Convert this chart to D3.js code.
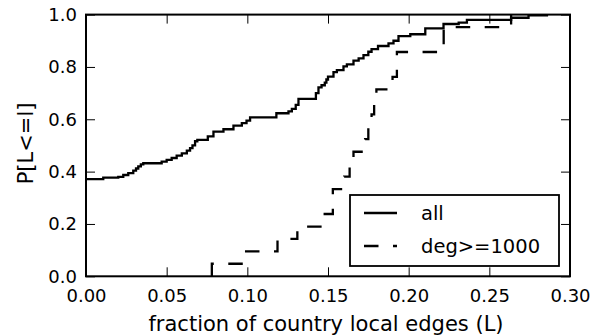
<!DOCTYPE html>
<html>
<head>
<meta charset="utf-8">
<script src="https://cdn.jsdelivr.net/npm/d3@7"></script>
<style>
  body { margin: 0; background: #fff; }
  text { font-family: "DejaVu Sans", sans-serif; fill: #000; }
</style>
</head>
<body>
<div id="chart"></div>
<script>
// tick values
const xTicks = [0.00, 0.05, 0.10, 0.15, 0.20, 0.25, 0.30];
const yTicks = [0.0, 0.2, 0.4, 0.6, 0.8, 1.0];
const seriesNames = ["all", "deg>=1000"];

// "all": step points (x where the step happens, level after it)
const allX = [0.000, 0.0107, 0.020, 0.0231, 0.0262, 0.0293, 0.031, 0.0324, 0.034, 0.0355,
              0.0469, 0.050, 0.0531, 0.0562, 0.0594, 0.0625, 0.0645, 0.066, 0.0676, 0.069,
              0.0755, 0.079, 0.0852, 0.0914, 0.0966, 0.0995, 0.1017, 0.118, 0.1255, 0.1276,
              0.130, 0.1317, 0.1425, 0.1441, 0.146, 0.148, 0.149, 0.150, 0.1534, 0.1555,
              0.1596, 0.1617, 0.1658, 0.169, 0.172, 0.175, 0.177, 0.181, 0.1875, 0.1906,
              0.1937, 0.201, 0.2103, 0.2216, 0.231, 0.2361, 0.2635, 0.2743, 0.2857];
const allY = [0.371, 0.377, 0.380, 0.387, 0.394, 0.404, 0.412, 0.420, 0.428, 0.432,
              0.438, 0.445, 0.452, 0.461, 0.470, 0.480, 0.490, 0.500, 0.516, 0.521,
              0.535, 0.553, 0.562, 0.576, 0.585, 0.595, 0.607, 0.623, 0.630, 0.640,
              0.655, 0.678, 0.700, 0.722, 0.730, 0.740, 0.752, 0.763, 0.780, 0.788,
              0.802, 0.810, 0.824, 0.833, 0.845, 0.858, 0.868, 0.880, 0.890, 0.900,
              0.918, 0.925, 0.947, 0.964, 0.969, 0.980, 0.988, 0.997, 1.000];

// "deg>=1000": step points
const degX = [0.078, 0.078, 0.098, 0.1187, 0.131, 0.147, 0.153, 0.160, 0.1634, 0.1658,
              0.173, 0.175, 0.177, 0.1786, 0.180, 0.190, 0.1927, 0.2217, 0.2635];
const degY = [0.000, 0.048, 0.095, 0.143, 0.190, 0.238, 0.333, 0.381, 0.429, 0.476,
              0.524, 0.571, 0.619, 0.667, 0.714, 0.762, 0.857, 0.952, 1.000];

const W = 608, H = 335;
const margin = {top: 14.6, right: 38, bottom: 58.7, left: 86};
const width = W - margin.left - margin.right;
const height = H - margin.top - margin.bottom;
const tickLen = 9;

const svg = d3.select("#chart").append("svg")
    .attr("width", W)
    .attr("height", H);

const g = svg.append("g")
    .attr("transform", `translate(${margin.left},${margin.top})`);

const x = d3.scaleLinear().domain([0, 0.30]).range([0, width]);
const y = d3.scaleLinear().domain([0, 1]).range([height, 0]);

// Axes (ticks point inward, on all four sides)
const axBottom = g.append("g")
    .attr("transform", `translate(0,${height})`)
    .call(d3.axisBottom(x).tickValues(xTicks).tickFormat(d3.format(".2f"))
        .tickSizeInner(-tickLen).tickSizeOuter(0).tickPadding(13));
const axLeft = g.append("g")
    .call(d3.axisLeft(y).tickValues(yTicks).tickFormat(d3.format(".1f"))
        .tickSizeInner(-tickLen).tickSizeOuter(0).tickPadding(9));
const axTop = g.append("g")
    .call(d3.axisTop(x).tickValues(xTicks).tickFormat("")
        .tickSizeInner(-tickLen).tickSizeOuter(0));
const axRight = g.append("g")
    .attr("transform", `translate(${width},0)`)
    .call(d3.axisRight(y).tickValues(yTicks).tickFormat("")
        .tickSizeInner(-tickLen).tickSizeOuter(0));

[axBottom, axLeft, axTop, axRight].forEach(a => {
    a.select(".domain").remove();
    a.selectAll(".tick line").attr("stroke", "#000").attr("stroke-width", 1);
    a.selectAll(".tick text")
        .style("font-family", "'DejaVu Sans', sans-serif")
        .style("font-size", "18px")
        .attr("fill", "#000");
});

// Lines
const line = d3.line()
    .x(d => x(d[0]))
    .y(d => y(d[1]))
    .curve(d3.curveStepAfter);

g.append("path")
    .datum(allX.map((v, i) => [v, allY[i]]))
    .attr("fill", "none")
    .attr("stroke", "#000")
    .attr("stroke-width", 2.3)
    .attr("d", line);

g.append("path")
    .datum(degX.map((v, i) => [v, degY[i]]))
    .attr("fill", "none")
    .attr("stroke", "#000")
    .attr("stroke-width", 2.3)
    .attr("stroke-dasharray", "14.5,14.5")
    .attr("d", line);

// Frame
g.append("rect")
    .attr("width", width)
    .attr("height", height)
    .attr("fill", "none")
    .attr("stroke", "#000")
    .attr("stroke-width", 2);

// Axis labels
svg.append("text")
    .attr("text-anchor", "middle")
    .attr("x", margin.left + width / 2 - 2)
    .attr("y", 331)
    .style("font-size", "21px")
    .text("fraction of country local edges (L)");

svg.append("text")
    .attr("text-anchor", "middle")
    .attr("transform", `translate(33,${margin.top + height / 2 - 2}) rotate(-90)`)
    .style("font-size", "21px")
    .text("P[L<=l]");

// Legend
const legend = svg.append("g").attr("transform", "translate(350,195)");
legend.append("rect")
    .attr("width", 209)
    .attr("height", 71)
    .attr("fill", "#fff")
    .attr("stroke", "#000")
    .attr("stroke-width", 1.8);

seriesNames.forEach((name, i) => {
    const ly = 18 + i * 33;
    legend.append("line")
        .attr("x1", 14).attr("x2", 47)
        .attr("y1", ly).attr("y2", ly)
        .attr("stroke", "#000")
        .attr("stroke-width", 2.3)
        .attr("stroke-dasharray", i === 1 ? "14.5,14.5" : null);
    legend.append("text")
        .attr("x", 71)
        .attr("y", ly + 7)
        .style("font-size", "19.5px")
        .text(name);
});
</script>
</body>
</html>
